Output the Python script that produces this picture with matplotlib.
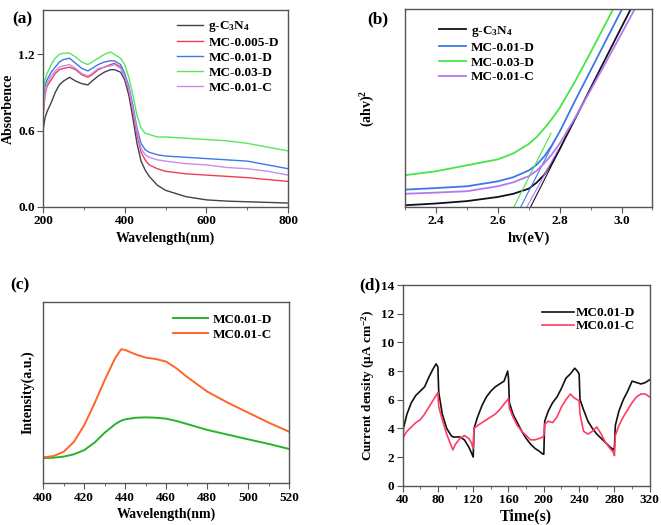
import matplotlib
matplotlib.use('Agg')
import matplotlib.pyplot as plt
from matplotlib.ticker import AutoMinorLocator

plt.rcParams['font.family'] = ['Liberation Serif', 'DejaVu Serif']
plt.rcParams['font.weight'] = 'bold'
plt.rcParams['mathtext.fontset'] = 'custom'
plt.rcParams['mathtext.rm'] = 'Liberation Serif:bold'
plt.rcParams['mathtext.it'] = 'Liberation Serif:bold:italic'
plt.rcParams['mathtext.bf'] = 'Liberation Serif:bold'
plt.rcParams['mathtext.default'] = 'rm'

# (a) UV-vis absorbance
wl_a = [200, 205, 210, 220, 230, 240, 250, 265, 280, 295, 310, 320, 335, 350, 365, 375, 390, 400,
        410, 420, 430, 440, 450, 460, 480, 500, 550, 600, 650, 700, 750, 800]
abs_g = [0.60, 0.70, 0.75, 0.82, 0.90, 0.96, 0.99, 1.02, 0.99, 0.97, 0.96, 0.99, 1.03, 1.06, 1.08, 1.08, 1.06, 1.00,
         0.88, 0.70, 0.50, 0.36, 0.29, 0.24, 0.17, 0.13, 0.08, 0.055, 0.045, 0.04, 0.035, 0.03]
abs_005 = [0.70, 0.88, 0.95, 1.00, 1.05, 1.08, 1.09, 1.10, 1.08, 1.04, 1.02, 1.04, 1.08, 1.10, 1.12, 1.13, 1.10, 1.03,
           0.92, 0.76, 0.57, 0.43, 0.37, 0.33, 0.30, 0.28, 0.26, 0.25, 0.24, 0.23, 0.215, 0.20]
abs_01d = [0.80, 0.95, 1.00, 1.06, 1.10, 1.14, 1.16, 1.17, 1.13, 1.09, 1.07, 1.09, 1.12, 1.14, 1.15, 1.15, 1.12, 1.05,
           0.95, 0.80, 0.62, 0.50, 0.45, 0.43, 0.41, 0.40, 0.39, 0.38, 0.37, 0.36, 0.33, 0.30]
abs_03d = [0.85, 1.00, 1.05, 1.12, 1.17, 1.20, 1.21, 1.21, 1.18, 1.14, 1.12, 1.14, 1.17, 1.20, 1.22, 1.20, 1.17, 1.12,
           1.02, 0.88, 0.72, 0.62, 0.58, 0.57, 0.55, 0.55, 0.54, 0.53, 0.52, 0.50, 0.47, 0.44]
abs_01c = [0.75, 0.90, 0.97, 1.03, 1.07, 1.10, 1.11, 1.12, 1.09, 1.05, 1.03, 1.05, 1.09, 1.10, 1.11, 1.12, 1.09, 1.03,
           0.93, 0.78, 0.60, 0.46, 0.41, 0.39, 0.37, 0.36, 0.34, 0.33, 0.31, 0.30, 0.28, 0.25]

# (b) Tauc plot
ev = [2.3, 2.4, 2.5, 2.6, 2.65, 2.7, 2.725, 2.75, 2.775, 2.8, 2.85, 2.9, 2.95, 3.0, 3.05]
tauc_g = [0.08, 0.17, 0.29, 0.50, 0.66, 0.92, 1.22, 1.62, 2.22, 2.92, 4.45, 6.00, 7.54, 9.08, 10.6]
tauc_01d = [0.87, 0.95, 1.04, 1.29, 1.50, 1.84, 2.12, 2.55, 3.12, 3.80, 5.37, 6.89, 8.42, 9.94, 11.5]
tauc_03d = [1.60, 1.80, 2.10, 2.40, 2.70, 3.18, 3.52, 3.96, 4.45, 5.00, 6.35, 7.80, 9.30, 10.8, 12.3]
tauc_01c = [0.66, 0.72, 0.79, 1.04, 1.24, 1.55, 1.82, 2.20, 2.66, 3.20, 4.50, 5.90, 7.32, 8.75, 10.2]
tang_x0 = [2.706, 2.674, 2.652, 2.694]
tang_slope = [30.9, 30.5, 31.0, 28.6]
tang_len = [0.10, 0.11, 0.12, 0.10]

# (c) PL spectra
wl_c = [400, 405, 410, 415, 420, 425, 430, 435, 438, 440, 445, 450, 455, 460, 465, 470, 480, 490, 500, 510, 520]
pl_d = [1.39, 1.41, 1.47, 1.60, 1.83, 2.24, 2.79, 3.25, 3.45, 3.52, 3.61, 3.63, 3.61, 3.56, 3.43, 3.27, 2.94, 2.68, 2.42, 2.17, 1.89]
pl_c = [1.43, 1.50, 1.74, 2.29, 3.21, 4.40, 5.69, 6.88, 7.38, 7.34, 7.10, 6.92, 6.84, 6.70, 6.33, 5.87, 5.05, 4.44, 3.89, 3.34, 2.84]

# (d) transient photocurrent
t = [40, 41, 45, 50, 55, 60, 65, 70, 75, 78, 80, 81, 85, 90, 95, 97, 100, 105, 110, 115, 118, 120,
     121, 125, 130, 135, 140, 145, 150, 155, 159, 160, 161, 165, 170, 175, 180, 185, 190, 195, 199, 200,
     201, 205, 210, 215, 220, 225, 230, 235, 238, 240, 241, 245, 250, 255, 260, 265, 270, 275, 279, 280,
     281, 285, 290, 295, 300, 305, 310, 315, 320]
cur_d = [2.0, 4.0, 5.0, 5.8, 6.3, 6.6, 6.9, 7.6, 8.2, 8.5, 8.3, 6.5, 5.0, 4.0, 3.5, 3.4, 3.4, 3.4, 3.2, 2.7, 2.3, 2.0,
         4.0, 4.8, 5.6, 6.2, 6.6, 6.9, 7.1, 7.3, 8.0, 7.5, 5.8, 5.0, 4.4, 3.8, 3.3, 2.9, 2.6, 2.4, 2.2, 2.2,
         4.5, 5.2, 5.8, 6.2, 6.8, 7.5, 7.8, 8.2, 8.0, 7.8, 6.0, 5.3, 4.5, 4.0, 3.6, 3.3, 3.0, 2.7, 2.5, 2.7,
         4.2, 5.2, 6.0, 6.6, 7.3, 7.2, 7.1, 7.2, 7.4]
cur_c = [2.0, 3.4, 3.8, 4.1, 4.4, 4.6, 5.0, 5.5, 6.0, 6.3, 6.5, 5.5, 4.6, 3.6, 2.8, 2.5, 2.9, 3.3, 3.5, 3.3, 3.0, 2.6,
         4.0, 4.2, 4.4, 4.6, 4.8, 5.0, 5.3, 5.7, 6.0, 6.1, 5.4, 4.8, 4.2, 3.8, 3.5, 3.2, 3.2, 3.3, 3.4, 3.5,
         4.3, 4.5, 4.4, 4.8, 5.5, 6.0, 6.4, 6.1, 6.0, 5.9, 5.0, 3.8, 3.6, 3.8, 4.1, 3.6, 3.0, 2.6, 2.3, 2.1,
         3.5, 4.2, 4.8, 5.3, 5.8, 6.2, 6.4, 6.4, 6.2]

FRAME = '#555555'
TICK_FS = 9.5
LABEL_FS = 10
LEG_FS = 9.5


def style_axes(ax):
    for sp in ax.spines.values():
        sp.set_color(FRAME)
        sp.set_linewidth(1.0)
    ax.tick_params(which='both', direction='out', colors=FRAME, labelcolor='black',
                   labelsize=TICK_FS, top=False, right=False, pad=2)
    ax.tick_params(which='major', length=4)
    ax.tick_params(which='minor', length=2.5)
    for lbl in ax.get_xticklabels() + ax.get_yticklabels():
        lbl.set_fontweight('bold')


fig = plt.figure(figsize=(6.61, 5.25), dpi=100)

# ---- (a)
ax_a = fig.add_axes([0.065, 0.606, 0.371, 0.375])
ax_a.plot(wl_a, abs_g, color='#404050', lw=1, label='g-C$_3$N$_4$')
ax_a.plot(wl_a, abs_005, color='#f03c5a', lw=1, label='MC-0.005-D')
ax_a.plot(wl_a, abs_01d, color='#3c78e6', lw=1, label='MC-0.01-D')
ax_a.plot(wl_a, abs_03d, color='#5ae65a', lw=1, label='MC-0.03-D')
ax_a.plot(wl_a, abs_01c, color='#c88cf0', lw=1, label='MC-0.01-C')
ax_a.set_xlim(200, 800)
ax_a.set_ylim(0, 1.55)
ax_a.set_xticks([200, 400, 600, 800])
ax_a.set_yticks([0.0, 0.6, 1.2])
ax_a.xaxis.set_minor_locator(AutoMinorLocator(2))
ax_a.set_xlabel('Wavelength(nm)', fontsize=LABEL_FS, fontweight='bold', labelpad=3)
ax_a.set_ylabel('Absorbence', fontsize=LABEL_FS, fontweight='bold', labelpad=2)
ax_a.legend(loc='upper right', frameon=False, handlelength=2.0, handletextpad=0.4,
            labelspacing=0.2, borderaxespad=0.3, prop={'weight': 'bold', 'size': LEG_FS})
style_axes(ax_a)
fig.text(0.018, 0.978, '(a)', fontsize=12.5, fontweight='bold', va='top')

# ---- (b)
ax_b = fig.add_axes([0.613, 0.606, 0.374, 0.377])
names_b = ['g-C$_3$N$_4$', 'MC-0.01-D', 'MC-0.03-D', 'MC-0.01-C']
colors_b = ['#101020', '#3c78e6', '#46e646', '#b478f0']
series_b = [tauc_g, tauc_01d, tauc_03d, tauc_01c]
for ys, c, n, x0, s, ln in zip(series_b, colors_b, names_b, tang_x0, tang_slope, tang_len):
    ax_b.plot(ev, ys, color=c, lw=1.3, label=n)
    ax_b.plot([x0, x0 + ln], [0, s * ln], color=c, lw=0.8)
ax_b.set_xlim(2.3, 3.1)
ax_b.set_ylim(0, 10)
ax_b.set_xticks([2.4, 2.6, 2.8, 3.0])
ax_b.xaxis.set_minor_locator(AutoMinorLocator(2))
ax_b.set_yticks([])
ax_b.set_xlabel('hv(eV)', fontsize=LABEL_FS + 0.5, fontweight='bold', labelpad=3)
ax_b.set_ylabel('(ahv)$^2$', fontsize=LABEL_FS, fontweight='bold', labelpad=20)
ax_b.legend(loc='upper left', frameon=False, handlelength=2.0, handletextpad=0.4,
            labelspacing=0.2, bbox_to_anchor=(0.09, 0.985),
            prop={'weight': 'bold', 'size': LEG_FS})
style_axes(ax_b)
fig.text(0.555, 0.978, '(b)', fontsize=12.5, fontweight='bold', va='top')

# ---- (c)
ax_c = fig.add_axes([0.0655, 0.0794, 0.372, 0.346])
ax_c.plot(wl_c, pl_d, color='#28b428', lw=1.4, label='MC0.01-D')
ax_c.plot(wl_c, pl_c, color='#ff6428', lw=1.4, label='MC0.01-C')
ax_c.set_xlim(400, 520)
ax_c.set_ylim(0, 10)
ax_c.set_xticks([400, 420, 440, 460, 480, 500, 520])
ax_c.xaxis.set_minor_locator(AutoMinorLocator(2))
ax_c.set_yticks([])
ax_c.set_xlabel('Wavelength(nm)', fontsize=LABEL_FS, fontweight='bold', labelpad=3)
ax_c.set_ylabel('Intensity(a.u.)', fontsize=LABEL_FS, fontweight='bold', labelpad=6)
ax_c.legend(loc='upper right', frameon=False, handlelength=2.6, handletextpad=0.4,
            labelspacing=0.2, bbox_to_anchor=(0.98, 1.0),
            prop={'weight': 'bold', 'size': LEG_FS})
style_axes(ax_c)
fig.text(0.015, 0.472, '(c)', fontsize=12.5, fontweight='bold', va='top')

# ---- (d)
ax_d = fig.add_axes([0.609, 0.0749, 0.374, 0.382])
ax_d.plot(t, cur_d, color='#111111', lw=1.2, label='MC0.01-D')
ax_d.plot(t, cur_c, color='#ff3c64', lw=1.2, label='MC0.01-C')
ax_d.set_xlim(40, 320)
ax_d.set_ylim(0, 14)
ax_d.set_xticks(range(40, 321, 40))
ax_d.set_yticks(range(0, 15, 2))
ax_d.xaxis.set_minor_locator(AutoMinorLocator(2))
ax_d.set_xlabel('Time(s)', fontsize=LABEL_FS + 1.5, fontweight='bold', labelpad=2)
ax_d.set_ylabel('Current density (μA cm$^{-2}$)', fontsize=LABEL_FS - 0.5, fontweight='bold', labelpad=3)
ax_d.legend(loc='upper right', frameon=False, handlelength=2.4, handletextpad=0.15,
            labelspacing=0.05, bbox_to_anchor=(0.99, 0.95),
            prop={'weight': 'bold', 'size': LEG_FS})
style_axes(ax_d)
fig.text(0.543, 0.472, '(d)', fontsize=12.5, fontweight='bold', va='top')

fig.savefig('out.png', dpi=100)
